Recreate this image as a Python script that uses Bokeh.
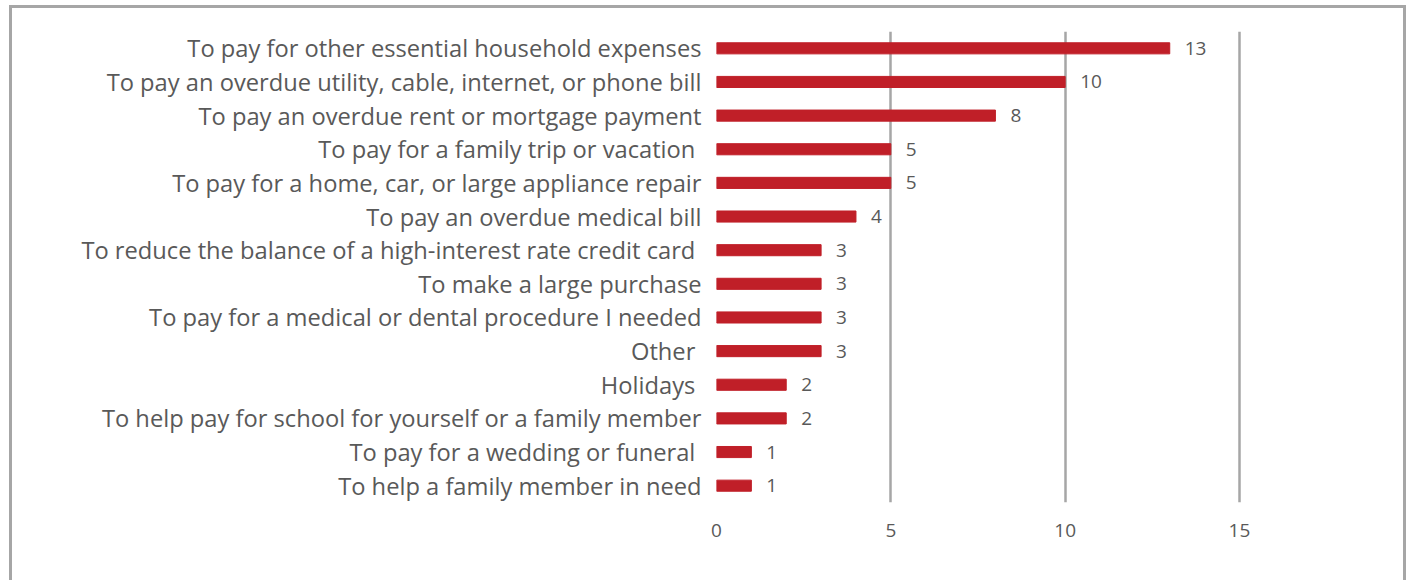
from bokeh.plotting import figure
from bokeh.models import ColumnDataSource, FactorRange
from bokeh.embed import file_html
from bokeh.resources import INLINE
from bokeh.core.properties import value

categories = [
    "To pay for other essential household expenses",
    "To pay an overdue utility, cable, internet, or phone bill",
    "To pay an overdue rent or mortgage payment",
    "To pay for a family trip or vacation ",
    "To pay for a home, car, or large appliance repair",
    "To pay an overdue medical bill",
    "To reduce the balance of a high-interest rate credit card ",
    "To make a large purchase",
    "To pay for a medical or dental procedure I needed",
    "Other ",
    "Holidays ",
    "To help pay for school for yourself or a family member",
    "To pay for a wedding or funeral ",
    "To help a family member in need",
]
counts = [13, 10, 8, 5, 5, 4, 3, 3, 3, 3, 2, 2, 1, 1]
x_ticks = [0, 5, 10, 15]

FONT = "Open Sans"
TXT = "#595959"
GRID = "#a6a6a6"
BAR = "#c01f28"

src = ColumnDataSource(dict(cat=categories, val=counts, lab=[str(v) for v in counts]))

p = figure(
    width=1397, height=575,
    y_range=FactorRange(factors=list(reversed(categories)), range_padding=0),
    x_range=(0, 19.59),
    output_backend="svg", toolbar_location=None,
    min_border_left=704, min_border_top=23, min_border_bottom=81, min_border_right=10,
    styles={"border-left": "3px solid #a6a6a6", "border-top": "3px solid #a6a6a6",
            "border-right": "3px solid #a6a6a6", "margin-left": "9px", "margin-top": "5px"},
)
p.outline_line_color = None

p.hbar(y="cat", right="val", left=0, height=0.33, color=BAR, source=src)
p.text(x="val", y="cat", text="lab", source=src, x_offset=15,
       text_align="left", text_baseline="middle",
       text_font=value(FONT), text_font_size="19px", text_color=TXT)

p.xaxis.ticker = x_ticks
p.xaxis.axis_line_color = None
p.xaxis.major_tick_line_color = None
p.xaxis.minor_tick_line_color = None
p.xaxis.major_label_standoff = 15
p.xaxis.major_label_text_font = FONT
p.xaxis.major_label_text_font_size = "19px"
p.xaxis.major_label_text_color = TXT

p.yaxis.axis_line_color = None
p.yaxis.major_tick_line_color = None
p.yaxis.minor_tick_line_color = None
p.yaxis.major_label_standoff = 9
p.yaxis.major_label_text_font = FONT
p.yaxis.major_label_text_font_size = "23.7px"
p.yaxis.major_label_text_color = TXT

p.ygrid.grid_line_color = None
p.xgrid.grid_line_color = GRID
p.xgrid.grid_line_width = 2.5

open("out.html", "w").write(file_html(p, INLINE))
